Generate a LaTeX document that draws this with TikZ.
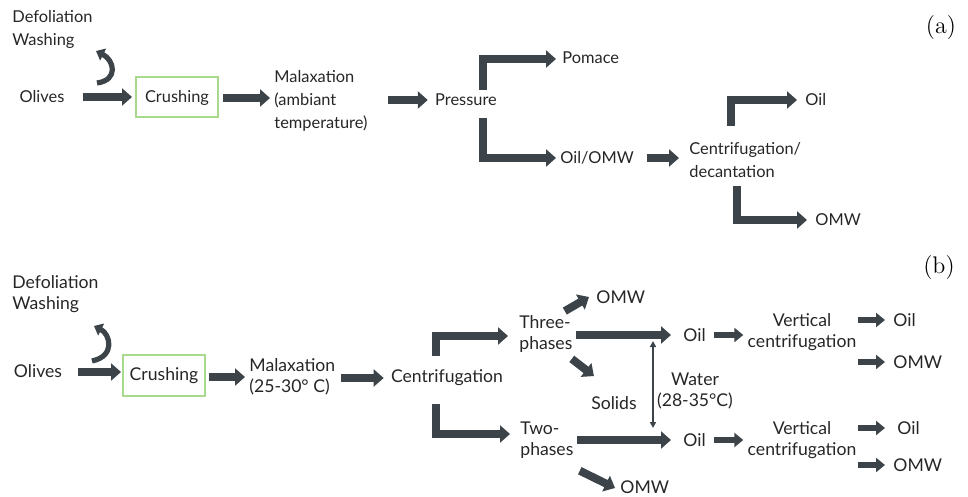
\documentclass[tikz,border=0pt]{standalone}
\usepackage{fontspec}
\setsansfont{Lato}
\usepackage{tikz}
\usetikzlibrary{arrows.meta}
\usetikzlibrary{positioning}
\usetikzlibrary{calc}
\definecolor{slate}{HTML}{3C4449}
\definecolor{boxgreen}{HTML}{A8D98C}
\definecolor{ink}{HTML}{262626}
\tikzset{
  lbla/.style={font=\sffamily\fontsize{8.2}{11.5}\selectfont, text=ink, inner sep=0pt, align=left},
  lblb/.style={font=\sffamily\fontsize{8.8}{10.5}\selectfont, text=ink, inner sep=0pt, align=left},
  crbox/.style={draw=boxgreen, line width=1pt, minimum width=41pt, minimum height=20pt, inner sep=0pt},
  tag/.style={font=\fontsize{12}{14}\selectfont, inner sep=0pt},
  blk/.style={draw=slate, line width=4pt, -{Triangle[length=5pt,width=8.5pt]}},
  blks/.style={draw=slate, line width=3pt, -{Triangle[length=4.5pt,width=7pt]}},
  turn/.style={draw=slate, line width=2.6pt, -{Triangle[length=4pt,width=6.5pt]}},
  thin/.style={draw=slate, line width=0.8pt, {Triangle[length=3pt,width=3pt]}-{Triangle[length=3pt,width=3pt]}}
}

\begin{document}
\begin{tikzpicture}[x=0.5pt,y=-0.5pt]
  \useasboundingbox (0,0) rectangle (968,497);

  % (a) traditional press
  \node[lbla, anchor=west] (defA) at (12,29) {Defoliation\\Washing};
  \node[lbla] (olA) at (42,97) {Olives};
  \node[crbox, font=\sffamily\fontsize{8.2}{10}\selectfont, text=ink] (crA) at (177,97.5) {Crushing};
  \node[lbla, anchor=west] (malA) at (274,101) {Malaxation\\(ambiant\\temperature)};
  \node[lbla] (presA) at (466,100) {Pressure};
  \node[lbla, anchor=west] (pomA) at (562,58) {Pomace};
  \node[lbla, anchor=west] (oomA) at (560,158) {Oil/OMW};
  \node[lbla, anchor=west] (cenA) at (689,160) {Centrifugation/\\decantation};
  \node[lbla, anchor=west] (oilA) at (805,100) {Oil};
  \node[lbla, anchor=west] (omwA) at (815,220) {OMW};
  \node[tag] (tagA) at (941,28) {(a)};

  \coordinate (wsA0) at (97,83);
  \coordinate (wsA1) at (96,51);
  \draw[turn] (wsA0) .. controls (119,80) and (114,60) .. (wsA1);

  \draw[blk] ($(olA.east)+(18,0)$) -- ($(olA.east -| crA.west)+(-3,0)$);
  \draw[blk] ($(crA.east)+(4,0.5)$) -- ($(crA.east -| malA.west)+(-4,0.5)$);
  \draw[blk] ($(malA.east |- presA.west)+(20,0)$) -- ($(presA.west)+(-7,0)$);
  \draw[blk] ($(presA.north)+(17,-4)$) |- ($(pomA.west)+(-6,1)$);
  \draw[blk] ($(presA.south)+(17,12)$) |- ($(oomA.west)+(-4,0)$);
  \draw[blk] ($(oomA.east)+(13,0)$) -- ($(oomA.east -| cenA.west)+(-10,0)$);
  \draw[blk] ($(cenA.north west)+(42,-16)$) |- ($(oilA.west)+(-8,0)$);
  \draw[blk] ($(cenA.south west)+(48,8)$) |- ($(omwA.west)+(-8,0)$);

  % (b) continuous centrifugation
  \node[lblb, anchor=west] (defB) at (12,294) {Defoliation\\Washing};
  \node[lblb] (olB) at (38,371) {Olives};
  \node[crbox, minimum height=20.5pt, font=\sffamily\fontsize{8.8}{10}\selectfont, text=ink] (crB) at (164,375.5) {Crushing};
  \node[lblb, anchor=west] (malB) at (249,377) {Malaxation\\(25-30° C)};
  \node[lblb] (cenB) at (447,378) {Centrifugation};
  \node[lblb, anchor=west] (thrB) at (519,334) {Three-\\phases};
  \node[lblb, anchor=west] (twoB) at (520,440) {Two-\\phases};
  \node[lblb, anchor=west] (omwB1) at (596,297) {OMW};
  \node[lblb] (solB) at (614,403) {Solids};
  \node[lblb, anchor=west] (oilB1) at (683,335) {Oil};
  \node[lblb, anchor=west] (oilB2) at (683,440) {Oil};
  \node[lblb, align=center] (watB) at (695,391) {Water\\(28-35°C)};
  \node[lblb, anchor=west] (omwB2) at (620,487) {OMW};
  \node[lblb, align=center] (vcB1) at (802,332) {Vertical\\centrifugation};
  \node[lblb, align=center] (vcB2) at (802,440) {Vertical\\centrifugation};
  \node[lblb, anchor=west] (oilB3) at (893,320) {Oil};
  \node[lblb, anchor=west] (omwB3) at (893,362) {OMW};
  \node[lblb, anchor=west] (oilB4) at (897,428) {Oil};
  \node[lblb, anchor=west] (omwB4) at (893,465) {OMW};
  \node[tag] (tagB) at (939,268) {(b)};

  \coordinate (wsB0) at (92,361);
  \coordinate (wsB1) at (94,326);
  \draw[turn] (wsB0) .. controls (116,356) and (110,334) .. (wsB1);

  \draw[blk] ($(olB.east)+(16,1)$) -- ($(olB.east -| crB.west)+(-1,1)$);
  \draw[blk] ($(crB.east)+(3,1.5)$) -- ($(crB.east -| malB.west)+(-4,1.5)$);
  \draw[blk] ($(malB.east |- cenB.west)+(5,0)$) -- ($(cenB.west)+(-7,0)$);
  \draw[blk] ($(cenB.north)+(-11,-14)$) |- ($(thrB.west)+(-11,2)$);
  \draw[blk] ($(cenB.south)+(-11,18)$) |- ($(twoB.west)+(-10,-6)$);
  \draw[blk] ($(thrB.east)+(3,1)$) -- ($(thrB.east -| oilB1.west)+(-12,1)$);
  \draw[blk] ($(twoB.east)+(3,0)$) -- ($(twoB.east -| oilB2.west)+(-12,0)$);
  \draw[blk] ($(thrB.north east)+(-8,-4)$) -- ($(omwB1.west)+(-7,0)$);
  \draw[blk] ($(thrB.south east)+(-1,6)$) -- ($(solB.north west)+(3,-20)$);
  \draw[blk] ($(twoB.south east)+(6,12)$) -- ($(omwB2.west)+(-5,1)$);
  \draw[thin] ($(oilB1.west)+(-30,6)$) -- ($(oilB2.west)+(-30,-12)$);

  \draw[blks] ($(oilB1.east)+(8,0)$) -- ($(oilB1.east -| vcB1.west)+(-4,0)$);
  \draw[blks] ($(oilB2.east)+(8,0)$) -- ($(oilB2.east -| vcB2.west)+(-4,0)$);
  \draw[blks] ($(vcB1.east |- oilB3.west)+(1,0)$) -- ($(oilB3.west)+(-8,0)$);
  \draw[blks] ($(vcB1.east |- omwB3.west)+(1,0)$) -- ($(omwB3.west)+(-8,0)$);
  \draw[blks] ($(vcB2.east |- oilB4.west)+(1,0)$) -- ($(oilB4.west)+(-12,0)$);
  \draw[blks] ($(vcB2.east |- omwB4.west)+(1,0)$) -- ($(omwB4.west)+(-8,0)$);
\end{tikzpicture}
\end{document}
